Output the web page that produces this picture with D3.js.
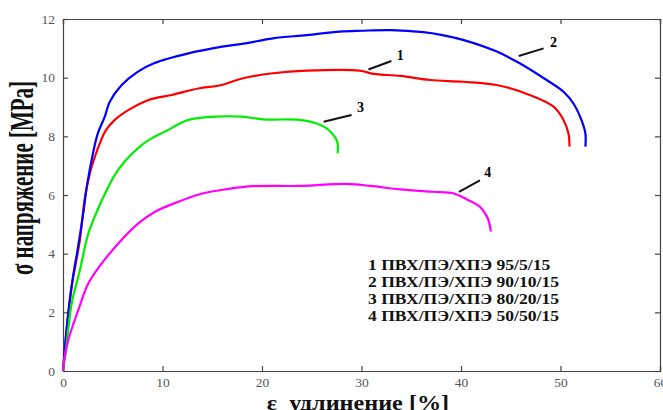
<!DOCTYPE html>
<html><head><meta charset="utf-8">
<script src="https://cdn.jsdelivr.net/npm/d3@7"></script>
<style>
html,body{margin:0;padding:0;background:#fff;}
svg{display:block;}
</style></head>
<body>
<svg id="chart" width="663" height="410"></svg>
<script>
// ---- data ----
const xTicks = [0, 10, 20, 30, 40, 50, 60];
const yTicks = [0, 2, 4, 6, 8, 10, 12];
const legendLabels = [
  "1 ПВХ/ПЭ/ХПЭ 95/5/15",
  "2 ПВХ/ПЭ/ХПЭ 90/10/15",
  "3 ПВХ/ПЭ/ХПЭ 80/20/15",
  "4 ПВХ/ПЭ/ХПЭ 50/50/15"
];
const series1 = [[0,0],[0.37,1.4],[0.87,2.87],[1.3,3.7],[1.7,4.47],[2.2,5.9],[2.7,6.74],[3.2,7.3],[3.7,7.76],[4.3,8.2],[5.2,8.56],[6.6,8.9],[8.6,9.24],[10.9,9.41],[13.6,9.63],[15.95,9.75],[18,9.97],[21.1,10.15],[24.5,10.24],[29.8,10.24],[31.2,10.13],[33.9,10.06],[36.9,9.92],[40.2,9.86],[43.6,9.75],[46.9,9.41],[49.3,9.01],[50.3,8.56],[50.8,8.1],[50.9,7.65]];
const series2 = [[0,0],[0.3,1.2],[0.6,2.2],[1.0,3.2],[1.5,4.2],[2.0,5.3],[2.4,6.3],[3.0,7.4],[3.5,8.1],[4.2,8.67],[4.7,9.18],[5.9,9.75],[7.5,10.2],[9.2,10.5],[12.6,10.83],[16,11.06],[18.3,11.17],[21.1,11.34],[24.5,11.45],[27.8,11.57],[30,11.6],[33,11.62],[36.2,11.55],[38,11.46],[40.2,11.29],[43.6,10.89],[45.9,10.49],[48.6,9.92],[50.3,9.52],[51.3,9.12],[52.1,8.56],[52.5,8.1],[52.5,7.65]];
const series3 = [[0,0],[0.2,0.5],[0.37,0.94],[0.87,2.3],[1.7,3.44],[2.55,4.69],[3.55,5.55],[4.4,6.17],[5.2,6.68],[6.2,7.14],[7.9,7.7],[8.9,7.93],[10.25,8.16],[12.6,8.56],[15.3,8.67],[18,8.67],[20.1,8.58],[23.8,8.56],[25.5,8.44],[26.5,8.27],[27.3,7.99],[27.6,7.76],[27.6,7.42]];
const series4 = [[0,0],[0.1,0.3],[0.53,1.06],[1.54,2.08],[2.55,2.99],[3.9,3.67],[5.56,4.35],[7.57,5.03],[9.25,5.43],[11.6,5.77],[14.1,6.06],[16.5,6.2],[19,6.3],[23.8,6.31],[28.5,6.38],[30.9,6.31],[33.9,6.19],[37.2,6.11],[39.2,6.06],[40.6,5.85],[41.9,5.6],[42.7,5.2],[43,4.75]];
// curve-number annotations: leader line start, end, label position (data units)
const annotations = [
  {name:"1", from:[30.7,10.28], to:[33.0,10.57], label:[33.9,10.7]},
  {name:"2", from:[45.8,10.74], to:[48.3,11.0], label:[49.3,11.15]},
  {name:"3", from:[26.2,8.5], to:[29.0,8.73], label:[29.9,8.95]},
  {name:"4", from:[39.8,6.11], to:[41.9,6.5], label:[42.7,6.73]}
];

// ---- chart ----
const svg = d3.select("#chart");
const m = {left:63, right:3, top:19, bottom:39};
const W = 663, H = 410;
const x = d3.scaleLinear().domain([0,60]).range([m.left, W - m.right]);
const y = d3.scaleLinear().domain([0,12]).range([H - m.bottom, m.top]);
const colors = ["#ff0000", "#0000ff", "#00ee00", "#ff00ff"];
const allSeries = [series1, series2, series3, series4];
const tickColor = "#444";
const labelFont = "'Liberation Serif','Times New Roman',serif";

const gx = svg.append("g").attr("transform", `translate(0,${y(0)})`)
  .call(d3.axisBottom(x).tickValues(xTicks).tickSize(-5).tickPadding(6).tickFormat(d3.format("d")));
const gxTop = svg.append("g").attr("transform", `translate(0,${y(12)})`)
  .call(d3.axisTop(x).tickValues(xTicks).tickSize(-5).tickFormat(""));
const gy = svg.append("g").attr("transform", `translate(${x(0)},0)`)
  .call(d3.axisLeft(y).tickValues(yTicks).tickSize(-5).tickPadding(8).tickFormat(d3.format("d")));
const gyR = svg.append("g").attr("transform", `translate(${x(60)},0)`)
  .call(d3.axisRight(y).tickValues(yTicks).tickSize(-5).tickFormat(""));
[gx, gxTop, gy, gyR].forEach(g => {
  g.selectAll(".domain").attr("stroke", tickColor).attr("stroke-width", 1.2);
  g.selectAll(".tick line").attr("stroke", tickColor).attr("stroke-width", 1.2);
  g.selectAll("text").attr("fill", "#555").style("font-family", labelFont).style("font-size", "13.5px");
});

const line = d3.line().x(d => x(d[0])).y(d => y(d[1])).curve(d3.curveCatmullRom.alpha(0.5));
svg.append("g").selectAll("path").data(allSeries).join("path")
  .attr("d", line).attr("fill", "none")
  .attr("stroke", (d,i) => colors[i]).attr("stroke-width", 2.2)
  .attr("stroke-linejoin", "round");

const ann = svg.append("g");
ann.selectAll("line").data(annotations).join("line")
  .attr("x1", d => x(d.from[0])).attr("y1", d => y(d.from[1]))
  .attr("x2", d => x(d.to[0])).attr("y2", d => y(d.to[1]))
  .attr("stroke", "#111").attr("stroke-width", 2);
ann.selectAll("text").data(annotations).join("text")
  .attr("x", d => x(d.label[0])).attr("y", d => y(d.label[1]))
  .attr("text-anchor", "middle").attr("dominant-baseline", "middle")
  .style("font-family", labelFont).style("font-weight", "bold").style("font-size", "14px")
  .text(d => d.name);

svg.append("g").attr("transform", "translate(368,0) scale(1.17,1)")
  .selectAll("text").data(legendLabels).join("text")
  .attr("x", 0).attr("y", (d,i) => 270 + i*17)
  .style("font-family", labelFont).style("font-weight", "bold").style("font-size", "15px")
  .attr("fill", "#111")
  .text(d => d);

svg.append("text").attr("transform", "translate(358,410) scale(1.1,1)").attr("text-anchor", "middle")
  .style("font-family", labelFont).style("font-weight", "bold").style("font-size", "22px")
  .attr("fill", "#111").attr("xml:space", "preserve")
  .text("ε  удлинение [%]");
svg.append("text").attr("transform", `translate(33,178) rotate(-90) scale(1,1.6)`).attr("text-anchor", "middle")
  .style("font-family", labelFont).style("font-weight", "bold").style("font-size", "21px")
  .attr("fill", "#111")
  .text("σ напряжение [MPa]");
</script>
</body></html>
